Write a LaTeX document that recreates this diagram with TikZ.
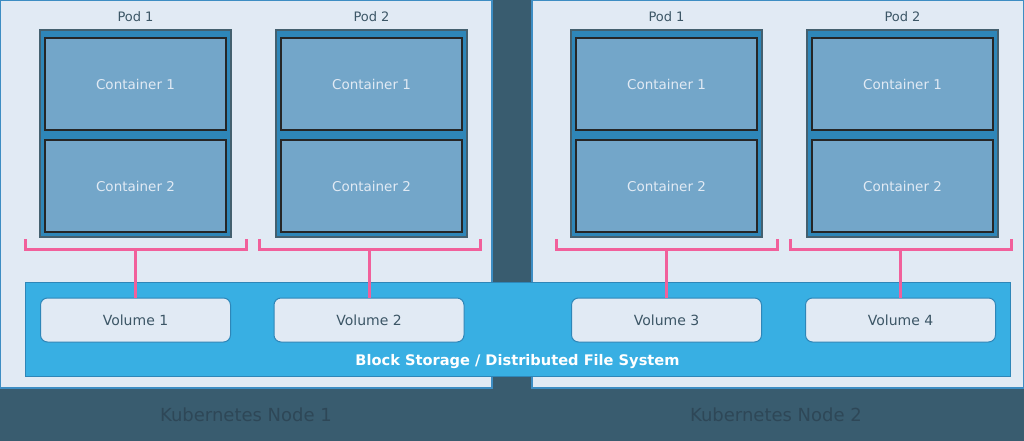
\documentclass[tikz,border=0pt]{standalone}
\usepackage{fontspec}
\setmainfont{DejaVu Sans}
\begin{document}
\begin{tikzpicture}[x=1pt,y=-1pt,
  panel/.style={draw=panelborder,fill=panelfill,line width=1.2pt},
  podbox/.style={draw=podborder,fill=podfill,line width=2pt},
  contbox/.style={draw=black!85,fill=contfill,line width=1.5pt,text=panelfill,font=\fontsize{13.5}{16}\selectfont},
  podlabel/.style={text=labeltext,font=\fontsize{13}{15}\selectfont},
  volbox/.style={draw=podfill,fill=panelfill,line width=1pt,rounded corners=7pt,text=labeltext,font=\fontsize{14}{16}\selectfont},
  bracket/.style={draw=pinkc,line width=3pt},
  stem/.style={draw=pinkc,line width=3pt},
  nodelabel/.style={text=nodetext,font=\fontsize{18}{21}\selectfont}
]
\definecolor{bgdark}{HTML}{395C6F}
\definecolor{panelfill}{HTML}{E1EAF4}
\definecolor{panelborder}{HTML}{3D8DC3}
\definecolor{podfill}{HTML}{2E86B8}
\definecolor{podborder}{HTML}{44606F}
\definecolor{contfill}{HTML}{73A6C9}
\definecolor{labeltext}{HTML}{3C5666}
\definecolor{pinkc}{HTML}{F1609B}
\definecolor{storefill}{HTML}{38AFE3}
\definecolor{nodetext}{HTML}{2E4757}
\useasboundingbox (0,0) rectangle (1024,441);
\fill[bgdark] (0,0) rectangle (1024,441);
% panels
\path[panel] (0.6,0.6) rectangle (492,388);
\path[panel] (532,0.6) rectangle (1023.4,388);
% pods
\foreach \n/\x in {p1/40,p2/276,p3/571,p4/807}{
  \path[podbox] (\x,30) rectangle ++(191,207);
}
\foreach \n/\x/\t in {a/135.5/Pod 1,b/371.5/Pod 2,c/666.5/Pod 1,d/902.5/Pod 2}{
  \node[podlabel] (lab\n) at (\x,17) {\t};
}
\foreach \n/\x in {a/135.5,b/371.5,c/666.5,d/902.5}{
  \node[contbox,minimum width=181pt,minimum height=92pt] (c1\n) at (\x,84) {Container 1};
  \node[contbox,minimum width=181pt,minimum height=92pt] (c2\n) at (\x,186) {Container 2};
}
% storage bar
\node[draw=podfill,fill=storefill,line width=1pt,minimum width=985pt,minimum height=94pt,inner sep=0pt] (store) at (517.5,329) {};
\node[text=white,font=\bfseries\fontsize{14.6}{17}\selectfont] (storelab) at (517.5,362) {Block Storage / Distributed File System};
% volumes
\foreach \n/\x/\t in {a/135.5/Volume 1,b/369/Volume 2,c/666.5/Volume 3,d/900.5/Volume 4}{
  \node[volbox,minimum width=190pt,minimum height=44pt] (vol\n) at (\x,320) {\t};
}
% brackets
\foreach \n/\l/\r in {a/25/246,b/259/480,c/556/777,d/790/1011}{
  \draw[bracket] (\l,239) -- (\l,249) -- (\r,249) -- (\r,239);
  \coordinate (br\n) at ({(\l+\r)/2},249);
}
\draw[stem] (bra) -- (vola.north);
\draw[stem] (369,249) -- (volb.north);
\draw[stem] (666.5,249) -- (volc.north);
\draw[stem] (900.5,249) -- (vold.north);
% node labels
\node[nodelabel] (k1) at (246,415) {Kubernetes Node 1};
\node[nodelabel] (k2) at (776,415) {Kubernetes Node 2};
\end{tikzpicture}
\end{document}
